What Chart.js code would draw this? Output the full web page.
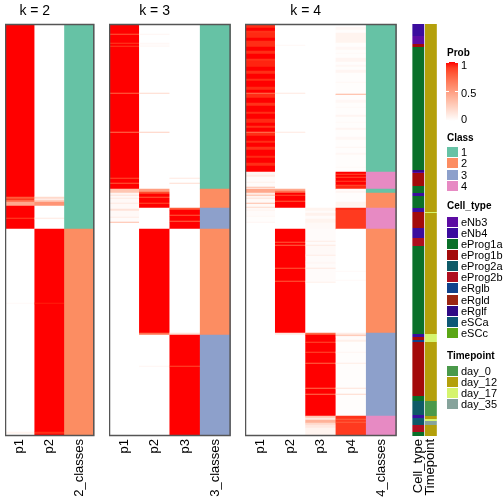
<!DOCTYPE html>
<html><head><meta charset="utf-8">
<script src="https://cdn.jsdelivr.net/npm/chart.js@4/dist/chart.umd.min.js"></script>
<style>
body{margin:0;background:#fff;width:504px;height:504px;overflow:hidden;position:relative;font-family:"Liberation Sans",Arial,sans-serif}
canvas{position:absolute;top:0}
.t{position:absolute;white-space:nowrap;color:#000}
</style></head><body>
<canvas id="c2" width="93" height="504" style="left:5px"></canvas>
<canvas id="c3" width="125" height="504" style="left:109px"></canvas>
<canvas id="c4" width="155" height="504" style="left:245px"></canvas>
<canvas id="ca" width="50" height="504" style="left:402px"></canvas>
<script>
// ---------------- data ----------------
const N = 412; // samples (rows), top to bottom
const k2Cols = ["p1", "p2", "2_classes"];
const k3Cols = ["p1", "p2", "p3", "3_classes"];
const k4Cols = ["p1", "p2", "p3", "p4", "4_classes"];
const annCols = ["Cell_type", "Timepoint"];
const panelTitles = ["k = 2", "k = 3", "k = 4"];
const probTicks = [1, 0.5, 0];
const classLevels = ["1", "2", "3", "4"];
const cellTypeLevels = ["eNb3", "eNb4", "eProg1a", "eProg1b", "eProg2a", "eProg2b", "eRglb", "eRgld", "eRglf", "eSCa", "eSCc"];
const timepointLevels = ["day_0", "day_12", "day_17", "day_35"];

// runs: [number of rows, value]
const k2_p1 = [[173,1],[2,0.8],[1,0.95],[2,0.75],[4,0.45],[12,1],[1,0.88],[10,1],[74,0],[1,0.03],[128,0],[2,0.06],[2,0]];
const k2_p2 = [[173,0],[2,0.2],[1,0.05],[2,0.25],[4,0.55],[12,0],[1,0.12],[10,0],[74,1],[1,0.97],[128,1],[2,0.94],[2,1]];
const k2_class = [[205,1],[207,2]];

const k3_p1 = [[10,1],[1,0.8],[8,1],[1,0.9],[2,1],[1,0.9],[46,1],[1,0.75],[38,1],[1,0.7],[45,1],[1,0.85],[4,1],[1,0.8],[5,1],
  [4,0.3],[2,0.05],[1,0.15],[2,0.03],[1,0.12],[4,0.03],[1,0.12],[5,0.03],[2,0.15],[6,0.03],[1,0.1],[4,0.02],[1,0.35],[213,0]];
const k3_p2 = [[10,0],[1,0.05],[8,0],[1,0.04],[2,0.02],[1,0.04],[46,0],[1,0.2],[38,0],[1,0.25],[56,0],
  [3,0.5],[2,0.85],[3,1],[1,0.8],[5,1],[1,0.85],[4,1],[21,0],[104,1],[2,0.7],[31,0],[1,0.05],[69,0]];
const k3_p3 = [[154,0],[1,0.12],[4,0],[1,0.18],[24,0],[2,0.8],[5,1],[1,0.8],[5,1],[1,0.75],[7,1],[104,0],[2,0.15],[31,1],[1,0.85],[69,1]];
const k3_class = [[165,1],[19,2],[21,3],[106,2],[101,3]];

const k4_p1 = [[4,0.94],[3,1],[2,0.93],[5,0.95],[3,1],[6,0.94],[4,1],[3,0.94],[5,1],[2,0.93],[6,0.96],[4,1],[3,0.94],[5,1],
  [2,0.94],[6,1],[3,0.95],[3,1],[1,0.7],[4,0.94],[5,1],[3,0.93],[6,1],[2,0.94],[5,1],[4,0.95],[3,1],[2,0.93],[4,1],[1,0.68],
  [3,0.94],[5,1],[2,0.94],[4,1],[3,0.93],[6,1],[2,0.95],[5,1],[3,0.94],[6,1],
  [3,0.05],[2,0.1],[5,0.02],[1,0.08],[4,0.02],[1,0.35],[1,0.05],[4,0.45],[2,0.1],[1,0.35],[2,0.05],[1,0.15],[4,0.03],[1,0.35],
  [3,0.03],[1,0.2],[2,0.03],[1,0.06],[5,0.02],[1,0.04],[5,0.01],[1,0.05],[213,0]];
const k4_p2 = [[21,0],[1,0.04],[47,0],[1,0.12],[38,0],[1,0.12],[56,0],[2,0.45],[2,0.7],[2,1],[1,0.85],[5,1],[1,0.8],[6,1],[21,0],
  [13,1],[1,0.8],[2,1],[1,0.75],[22,1],[1,0.8],[12,1],[1,0.8],[51,1],[2,0.12],[101,0]];
const k4_p3 = [[184,0],[3,0.06],[2,0.02],[3,0.07],[3,0.02],[4,0.06],[6,0.03],[12,0.02],[1,0.1],[3,0.02],[1,0.12],[9,0.03],[1,0.1],
  [6,0.02],[2,0.04],[4,0.02],[1,0.12],[13,0.02],[1,0.08],[50,0],[2,0.75],[7,1],[1,0.85],[9,1],[1,0.85],[10,1],[1,0.75],[24,1],
  [1,0.7],[5,1],[1,0.7],[21,1],[2,0.3],[2,0.12],[3,0.4],[2,0.2],[3,0.12],[8,0.06]];
const k4_p4 = [[3,0],[3,0.04],[3,0.01],[10,0.06],[4,0.01],[3,0.04],[3,0.01],[1,0.03],[4,0.01],[4,0.05],[3,0.01],[2,0.04],[3,0.01],
  [3,0.05],[9,0.01],[1,0.04],[11,0.01],[1,0.4],[5,0.01],[3,0.04],[4,0.01],[1,0.03],[7,0.01],[2,0.05],[5,0.01],[1,0.03],[5,0.01],
  [2,0.05],[7,0.01],[3,0.04],[7,0.01],[1,0.05],[5,0.01],[2,0.04],[12,0.01],[1,0.03],[4,0.01],
  [2,1],[1,0.85],[2,1],[1,0.85],[3,1],[1,0.88],[3,1],[1,0.85],[3,0.95],
  [2,0.02],[2,0.05],[9,0.01],[5,0.06],[1,0.01],[2,0.95],[19,0.91],[42,0],[1,0.03],[8,0],[1,0.03],[52,0],
  [2,0.1],[1,0.35],[1,0.05],[3,0.02],[2,0.08],[10,0.01],[1,0.05],[10,0.01],[1,0.1],[24,0.01],[1,0.15],[5,0.01],[1,0.2],[21,0.01],
  [3,0.93],[1,0.78],[2,0.91],[1,0.78],[13,0.91]];
const k4_class = [[148,1],[17,4],[4,1],[15,2],[21,4],[104,2],[83,3],[20,4]];

const cellTypeRuns = [[12,"eNb4"],[8,"eNb3"],[3,"eProg1b"],[123,"eProg1a"],[2,"eRglf"],[1,"eNb3"],[13,"eProg1b"],[7,"eProg1a"],
  [3,"eNb4"],[12,"eProg1a"],[4,"eNb4"],[16,"eProg1b"],[10,"eNb4"],[8,"eProg2b"],[88,"eProg1a"],[3,"eNb4"],[3,"eProg1b"],
  [2,"eRglb"],[54,"eProg1b"],[5,"eProg1a"],[14,"eProg2a"],[3,"eNb4"],[2,"eSCa"],[5,"eProg2a"],[7,"eProg2b"],[4,"eProg1a"]];
const timepointRuns = [[188,"day_12"],[1,"day_17"],[121,"day_12"],[8,"day_17"],[59,"day_12"],[15,"day_0"],[3,"day_12"],
  [2,"day_17"],[4,"day_35"],[11,"day_12"]];

// ---------------- styles ----------------
const classColors = {"1":"#66C2A5","2":"#FC8D62","3":"#8DA0CB","4":"#E78AC3"};
const cellTypeColors = {eNb3:"#5C0CA3",eNb4:"#3B0D9E",eProg1a:"#0A7029",eProg1b:"#A30A0A",eProg2a:"#0E5A67",eProg2b:"#AE0F1E",
  eRglb:"#0F428B",eRgld:"#9A2512",eRglf:"#2E0A84",eSCa:"#0D5876",eSCc:"#5AA615"};
const timepointColors = {day_0:"#4A994A",day_12:"#B4A00B",day_17:"#D5F46E",day_35:"#86A39B"};
const FONT = "'Liberation Sans', Arial, sans-serif";

function labToRgb(L, a, b) {
  const fy = (L + 16) / 116, fx = fy + a / 500, fz = fy - b / 200;
  const f = t => t > 6/29 ? t*t*t : 3*(6/29)*(6/29)*(t - 4/29);
  const X = 0.95047*f(fx), Y = f(fy), Z = 1.08883*f(fz);
  const r = 3.2406*X - 1.5372*Y - 0.4986*Z, g = -0.9689*X + 1.8758*Y + 0.0415*Z, bb = 0.0557*X - 0.2040*Y + 1.0570*Z;
  const gam = u => { u = Math.min(1, Math.max(0, u)); return Math.round(255*(u <= 0.0031308 ? 12.92*u : 1.055*Math.pow(u, 1/2.4) - 0.055)); };
  return `rgb(${gam(r)},${gam(g)},${gam(bb)})`;
}
function probColor(p) { return labToRgb(100 + (53.2408 - 100)*p, 80.0925*p, 67.2032*p); }

const borderPlugin = {
  id: 'panelBorder',
  afterDatasetsDraw(chart, args, opts) {
    if (!opts.show) return;
    const {ctx, chartArea: a} = chart;
    ctx.save(); ctx.strokeStyle = '#555'; ctx.lineWidth = 1.5;
    ctx.strokeRect(a.left + 0.5, a.top + 0.5, a.right - a.left - 1, a.bottom - a.top - 1);
    ctx.restore();
  }
};
const titlePlugin = {
  id: 'panelTitle',
  afterDraw(chart, args, opts) {
    if (!opts.text) return;
    const {ctx, chartArea: a} = chart;
    const n = chart.data.labels.length;
    const cx = a.left + (a.right - a.left) * opts.nProb / n / 2;
    ctx.save(); ctx.fillStyle = '#000'; ctx.font = `14px ${FONT}`;
    ctx.textAlign = 'center'; ctx.textBaseline = 'middle';
    ctx.fillText(opts.text, cx, 11);
    ctx.restore();
  }
};

function makeChart(id, cols, runsList, colorFor, titleText, nProb, bordered, barPct, sidePad) {
  const data = [], colors = [];
  cols.forEach((c, i) => {
    let pos = 0;
    runsList[i].forEach(([n, v]) => {
      data.push({x: c, y: [pos, pos + n]});
      colors.push(colorFor(i, v));
      pos += n;
    });
  });
  return new Chart(document.getElementById(id), {
    type: 'bar',
    data: {labels: cols, datasets: [{data, backgroundColor: colors, borderWidth: 0, categoryPercentage: 1, barPercentage: barPct, grouped: false}]},
    options: {
      responsive: false, animation: false, events: [],
      layout: {padding: {top: 24, left: sidePad, right: sidePad, bottom: 0}},
      plugins: {legend: {display: false}, tooltip: {enabled: false},
        panelBorder: {show: bordered}, panelTitle: {text: titleText, nProb: nProb}},
      scales: {
        x: {type: 'category', offset: true, grid: {display: false, drawTicks: false}, border: {display: false},
          ticks: {color: '#000', font: {family: FONT, size: 13}, minRotation: 90, maxRotation: 90, padding: 3, autoSkip: false},
          afterFit(s) { s.height = 68; }},
        y: {type: 'linear', display: false, min: 0, max: N, reverse: true}
      }
    },
    plugins: [borderPlugin, titlePlugin]
  });
}

const probOrClass = nProb => (i, v) => i < nProb ? probColor(v) : classColors[String(v)];
makeChart('c2', k2Cols, [k2_p1, k2_p2, k2_class], probOrClass(2), panelTitles[0], 2, true, 1, 0);
makeChart('c3', k3Cols, [k3_p1, k3_p2, k3_p3, k3_class], probOrClass(3), panelTitles[1], 3, true, 1, 0);
makeChart('c4', k4Cols, [k4_p1, k4_p2, k4_p3, k4_p4, k4_class], probOrClass(4), panelTitles[2], 4, true, 1, 0);
makeChart('ca', annCols, [cellTypeRuns, timepointRuns], (i, v) => i === 0 ? cellTypeColors[v] : timepointColors[v], '', 0, false, 0.94, 10);

// ---------------- legends (HTML) ----------------
function addEl(css, text) {
  const d = document.createElement('div');
  d.className = 't'; d.style.cssText += css;
  if (text != null) d.textContent = text;
  document.body.appendChild(d); return d;
}
function title(text, cy) { addEl(`left:447px;top:${cy-6}px;font:bold 10px ${FONT};line-height:12px;`, text); }
function label(text, cy) { addEl(`left:461px;top:${cy-6}px;font:11px ${FONT};line-height:12px;`, text); }

// Prob colour bar
title("Prob", 53);
const barTop = 62, barH = 59;
const stops = [];
for (let i = 0; i <= 10; i++) stops.push(`${probColor(1 - i/10)} ${i*10}%`);
addEl(`left:446px;top:${barTop}px;width:12px;height:${barH}px;background:linear-gradient(to bottom, ${stops.join(',')});`);
probTicks.forEach(p => {
  const y = barTop + (1 - p) * (barH - 1);
  addEl(`left:446px;top:${y}px;width:3px;height:1px;background:#fff;`);
  addEl(`left:455px;top:${y}px;width:3px;height:1px;background:#fff;`);
});
label("1", 65); label("0.5", 92.5); label("0", 119);

function discreteLegend(name, levels, colors, titleY, firstY, step) {
  title(name, titleY);
  levels.forEach((lv, i) => {
    const cy = firstY + i * step;
    addEl(`left:447px;top:${cy-5}px;width:11px;height:10px;background:${colors[lv]};`);
    label(lv, cy);
  });
}
discreteLegend("Class", classLevels, classColors, 138, 152, 11.3);
discreteLegend("Cell_type", cellTypeLevels, cellTypeColors, 206, 221.5, 11.15);
discreteLegend("Timepoint", timepointLevels, timepointColors, 356, 371, 11);
</script>
</body></html>
